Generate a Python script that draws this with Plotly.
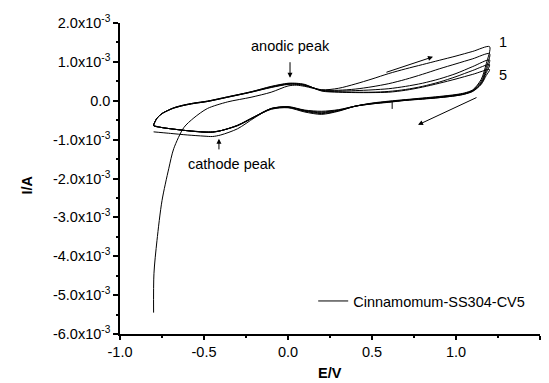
import numpy as np
import plotly.graph_objects as go

# Potential grids (V) for forward and reverse sweeps
fwd_E = [-0.80, -0.798, -0.78, -0.75, -0.71, -0.68, -0.62, -0.56, -0.48, -0.36, -0.22, -0.10,
         0.00, 0.05, 0.10, 0.20, 0.30, 0.40, 0.50, 0.60, 0.70, 0.80, 0.90, 1.00, 1.10, 1.20]
rev_E = [1.20, 1.18, 1.15, 1.10, 1.05, 1.00, 0.90, 0.80, 0.70, 0.60, 0.50, 0.40, 0.30, 0.20,
         0.10, 0.00, -0.10, -0.20, -0.30, -0.40, -0.45, -0.50, -0.60, -0.70, -0.75, -0.80]

# Currents in mA for each cycle
c1_fwd = [-5.45, -4.45, -3.60, -2.57, -1.75, -1.23, -0.69, -0.44, -0.20, -0.03, 0.09, 0.22,
          0.38, 0.40, 0.37, 0.28, 0.32, 0.43, 0.56, 0.70, 0.82, 0.93, 1.04, 1.15, 1.27, 1.39]
c1_rev = [1.39, 0.95, 0.55, 0.28, 0.20, 0.16, 0.11, 0.07, 0.03, -0.01, -0.06, -0.14, -0.27, -0.35,
          -0.29, -0.18, -0.22, -0.42, -0.64, -0.77, -0.81, -0.81, -0.77, -0.72, -0.69, -0.64]
c2_fwd = [-0.64, -0.60, -0.45, -0.33, -0.24, -0.19, -0.12, -0.07, -0.02, 0.09, 0.22, 0.34,
          0.42, 0.42, 0.39, 0.28, 0.27, 0.30, 0.36, 0.44, 0.55, 0.68, 0.82, 0.95, 1.08, 1.21]
c2_rev = [1.21, 0.85, 0.50, 0.27, 0.19, 0.15, 0.10, 0.06, 0.02, -0.02, -0.07, -0.14, -0.26, -0.33,
          -0.27, -0.17, -0.21, -0.42, -0.64, -0.77, -0.81, -0.81, -0.77, -0.72, -0.69, -0.64]
c3_fwd = [-0.64, -0.60, -0.45, -0.33, -0.24, -0.19, -0.12, -0.07, -0.02, 0.09, 0.22, 0.35,
          0.43, 0.43, 0.40, 0.27, 0.25, 0.26, 0.28, 0.31, 0.37, 0.45, 0.56, 0.70, 0.88, 1.05]
c3_rev = [1.05, 0.78, 0.46, 0.26, 0.18, 0.14, 0.09, 0.05, 0.02, -0.03, -0.07, -0.14, -0.25, -0.31,
          -0.26, -0.16, -0.20, -0.41, -0.63, -0.77, -0.80, -0.80, -0.77, -0.72, -0.69, -0.64]
c4_fwd = [-0.64, -0.60, -0.45, -0.33, -0.24, -0.18, -0.11, -0.06, -0.01, 0.10, 0.23, 0.36,
          0.44, 0.44, 0.41, 0.26, 0.23, 0.22, 0.22, 0.24, 0.29, 0.37, 0.48, 0.62, 0.78, 0.93]
c4_rev = [0.93, 0.72, 0.44, 0.25, 0.17, 0.13, 0.08, 0.05, 0.01, -0.03, -0.08, -0.14, -0.24, -0.29,
          -0.25, -0.16, -0.20, -0.41, -0.63, -0.77, -0.80, -0.80, -0.77, -0.72, -0.69, -0.64]
c5_fwd = [-0.64, -0.60, -0.45, -0.33, -0.24, -0.18, -0.11, -0.06, -0.01, 0.10, 0.23, 0.37,
          0.45, 0.45, 0.42, 0.25, 0.22, 0.21, 0.21, 0.22, 0.27, 0.35, 0.45, 0.56, 0.68, 0.80]
c5_rev = [0.80, 0.65, 0.42, 0.24, 0.17, 0.13, 0.08, 0.04, 0.01, -0.04, -0.08, -0.14, -0.23, -0.27,
          -0.24, -0.15, -0.20, -0.44, -0.72, -0.88, -0.92, -0.91, -0.88, -0.84, -0.82, -0.80]

# small measurement glitch on a reverse sweep
glitch_E = [0.62, 0.62]
glitch_I = [-0.03, -0.21]

x_tickvals = [-1.0, -0.5, 0.0, 0.5, 1.0, 1.5]
x_ticktext = ["-1.0", "-0.5", "0.0", "0.5", "1.0", "1.5"]
y_tickvals = [2e-3, 1e-3, 0.0, -1e-3, -2e-3, -3e-3, -4e-3, -5e-3, -6e-3]
y_ticktext = ["2.0x10<sup>-3</sup>", "1.0x10<sup>-3</sup>", "0.0", "-1.0x10<sup>-3</sup>",
              "-2.0x10<sup>-3</sup>", "-3.0x10<sup>-3</sup>", "-4.0x10<sup>-3</sup>",
              "-5.0x10<sup>-3</sup>", "-6.0x10<sup>-3</sup>"]
series_name = "Cinnamomum-SS304-CV5"
x_title = "<b>E/V</b>"
y_title = "<b>I/A</b>"

FONT = "Arial, Liberation Sans, sans-serif"
cycles = [(c1_fwd, c1_rev), (c2_fwd, c2_rev), (c3_fwd, c3_rev), (c4_fwd, c4_rev), (c5_fwd, c5_rev)]

fig = go.Figure()
for k, (f, r) in enumerate(cycles):
    xs = fwd_E + rev_E[1:]
    ys = (np.array(f + r[1:]) * 1e-3).tolist()
    fig.add_trace(go.Scatter(x=xs, y=ys, mode="lines", name=series_name,
                             legendgroup="cv", showlegend=(k == 0),
                             line=dict(color="black", width=1, shape="spline", smoothing=0.8)))
fig.add_trace(go.Scatter(x=glitch_E, y=(np.array(glitch_I) * 1e-3).tolist(), mode="lines",
                         legendgroup="cv", showlegend=False, line=dict(color="black", width=1)))

axis_common = dict(showline=True, linewidth=1.5, linecolor="black", showgrid=False,
                   zeroline=False, ticks="outside", tickwidth=1.5, tickcolor="black",
                   automargin=False,
                   tickfont=dict(family=FONT, size=14.5, color="black"))

fig.update_xaxes(range=[-1.0, 1.5], tickmode="array", tickvals=x_tickvals, ticktext=x_ticktext,
                 ticklen=4,
                 minor=dict(tickmode="array", tickvals=[-0.75, -0.25, 0.25, 0.75, 1.25],
                            ticks="outside", ticklen=2, tickwidth=1.5, tickcolor="black"),
                 **axis_common)
fig.update_yaxes(range=[-6e-3, 2e-3], tickmode="array", tickvals=y_tickvals, ticktext=y_ticktext,
                 ticklen=5,
                 minor=dict(tickmode="array",
                            tickvals=[1.5e-3, 0.5e-3, -0.5e-3, -1.5e-3, -2.5e-3, -3.5e-3,
                                      -4.5e-3, -5.5e-3],
                            ticks="outside", ticklen=2, tickwidth=1.5, tickcolor="black"),
                 **axis_common)

ann_font = dict(family=FONT, size=14.5, color="black")
arrow_style = dict(showarrow=True, arrowhead=2, arrowsize=1, arrowwidth=1, arrowcolor="black",
                   text="", xref="x", yref="y", axref="x", ayref="y")
annotations = [
    dict(x=0.012, y=0.59e-3, ax=0.012, ay=1.03e-3, **arrow_style),
    dict(x=0.012, y=1.41e-3, xref="x", yref="y", text="anodic peak", showarrow=False,
         font=ann_font),
    dict(x=-0.411, y=-0.98e-3, ax=-0.411, ay=-1.29e-3, **arrow_style),
    dict(x=-0.333, y=-1.62e-3, xref="x", yref="y", text="cathode peak", showarrow=False,
         font=ann_font),
    dict(x=0.863, y=1.13e-3, ax=0.577, ay=0.72e-3, **arrow_style),
    dict(x=0.774, y=-0.62e-3, ax=1.131, ay=0.10e-3, **arrow_style),
    dict(x=1.245, y=1.52e-3, xref="x", yref="y", text="1", showarrow=False, xanchor="left",
         font=ann_font),
    dict(x=1.245, y=0.67e-3, xref="x", yref="y", text="5", showarrow=False, xanchor="left",
         font=ann_font),
    # axis titles
    dict(x=0.5, y=-0.125, xref="paper", yref="paper", text=x_title, showarrow=False,
         xanchor="center", yanchor="middle", font=ann_font),
    dict(x=-0.222, y=0.48, xref="paper", yref="paper", text=y_title, showarrow=False,
         textangle=-90, xanchor="center", yanchor="middle", font=ann_font),
]

fig.update_layout(
    width=549, height=383,
    margin=dict(l=120, r=9, t=23, b=49, autoexpand=False),
    paper_bgcolor="white", plot_bgcolor="white",
    font=dict(family=FONT, size=14.5, color="black"),
    showlegend=True,
    legend=dict(x=0.46, y=0.106, xanchor="left", yanchor="middle",
                bgcolor="rgba(0,0,0,0)", font=dict(family=FONT, size=14.5, color="black"),
                itemwidth=30),
    annotations=annotations,
)

fig.write_html("out.html")
